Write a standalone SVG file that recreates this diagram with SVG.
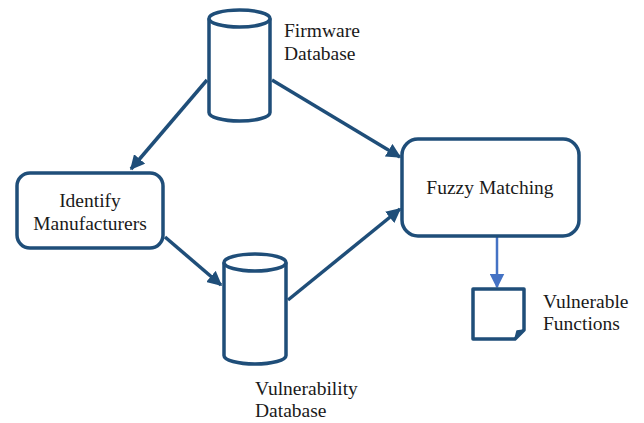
<svg xmlns="http://www.w3.org/2000/svg" width="644" height="423" viewBox="0 0 644 423">
  <style>
    .shape { fill: #ffffff; stroke: #1f4e79; stroke-width: 3.5; stroke-linejoin: round; }
    .edge { fill: none; stroke: #1f4e79; stroke-width: 3.5; }
    .edge-light { fill: none; stroke: #4472c4; stroke-width: 2.5; }
    text { font-family: 'Liberation Serif', 'DejaVu Serif', serif; font-size: 19.5px; fill: #1a1a1a; }
    .mid { text-anchor: middle; }
  </style>
  <defs>
    <marker id="arrow" viewBox="0 0 10 10" refX="9" refY="5" markerWidth="4.2" markerHeight="4.2" markerUnits="strokeWidth" orient="auto">
      <path d="M0,0 L10,5 L0,10 Z" fill="#1f4e79"/>
    </marker>
    <marker id="arrow-light" viewBox="0 0 10 10" refX="9" refY="5" markerWidth="6" markerHeight="6" markerUnits="strokeWidth" orient="auto">
      <path d="M0,0 L10,5 L0,10 Z" fill="#4472c4"/>
    </marker>
  </defs>

  <g id="connectors">
    <line class="edge" x1="207" y1="80" x2="131" y2="169" marker-end="url(#arrow)"/>
    <line class="edge" x1="272" y1="80" x2="400" y2="157" marker-end="url(#arrow)"/>
    <line class="edge" x1="165" y1="237" x2="221" y2="285" marker-end="url(#arrow)"/>
    <line class="edge" x1="288" y1="300" x2="400" y2="209" marker-end="url(#arrow)"/>
    <line class="edge-light" x1="497" y1="237" x2="497" y2="287" marker-end="url(#arrow-light)"/>
  </g>

  <g id="firmware-db">
    <path class="shape" d="M209,18.5 V112.5 A30.5,8.5 0 0 0 270,112.5 V18.5"/>
    <ellipse class="shape" cx="239.5" cy="18.5" rx="30.5" ry="8.5"/>
    <text x="284" y="37" font-family="Liberation Serif, serif">Firmware</text>
    <text x="284" y="60" font-family="Liberation Serif, serif">Database</text>
  </g>

  <g id="identify-manufacturers">
    <rect class="shape" x="17" y="173" width="146" height="75" rx="13"/>
    <text class="mid" x="90" y="207" font-family="Liberation Serif, serif">Identify</text>
    <text class="mid" x="90" y="230" font-family="Liberation Serif, serif">Manufacturers</text>
  </g>

  <g id="vulnerability-db">
    <path class="shape" d="M224,262.5 V355.5 A31,8.5 0 0 0 286,355.5 V262.5"/>
    <ellipse class="shape" cx="255" cy="262.5" rx="31" ry="8.5"/>
    <text x="255" y="395" font-family="Liberation Serif, serif">Vulnerability</text>
    <text x="255" y="417" font-family="Liberation Serif, serif">Database</text>
  </g>

  <g id="fuzzy-matching">
    <rect class="shape" x="402" y="139" width="177" height="97" rx="16"/>
    <text class="mid" x="490" y="194" font-family="Liberation Serif, serif">Fuzzy Matching</text>
  </g>

  <g id="vulnerable-functions">
    <path class="shape" d="M473,289 H524 V330 L515,339 H473 Z"/>
    <path d="M515,339 L517,331 L524,330 Z" fill="#1f4e79" stroke="#1f4e79" stroke-width="1.5" stroke-linejoin="round"/>
    <text x="543" y="308" font-family="Liberation Serif, serif">Vulnerable</text>
    <text x="543" y="330" font-family="Liberation Serif, serif">Functions</text>
  </g>
</svg>
